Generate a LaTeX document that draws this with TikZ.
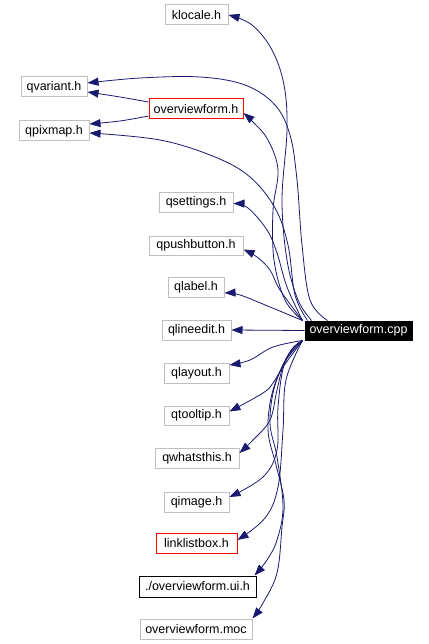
\documentclass[tikz,border=0pt]{standalone}
\usepackage{fontspec}
\setmainfont{Liberation Sans}
\usetikzlibrary{arrows.meta}
\definecolor{edgeblue}{RGB}{25,25,112}
\definecolor{boxgray}{RGB}{191,191,191}
\tikzset{
  hbox/.style={draw=boxgray, line width=1pt, inner sep=0pt, font=\fontsize{12.5}{14}\selectfont},
  redbox/.style={hbox, draw=red},
  blackbox/.style={hbox, draw=black},
  cppbox/.style={hbox, draw=black, fill=black, text=white},
  edge/.style={draw=edgeblue, line width=0.8pt, -{Triangle[length=11pt,width=8pt]}},
}
\begin{document}
\begin{tikzpicture}[x=1pt,y=-1pt]
\useasboundingbox (0,0) rectangle (428,644);
\fill[white] (0,0) rectangle (428,644);
% nodes
\node[hbox, minimum width=63pt, minimum height=20pt] (klocale) at (196.5,15) {klocale.h};
\node[hbox, minimum width=66pt, minimum height=20pt] (qvariant) at (54,87) {qvariant.h};
\node[redbox, minimum width=94pt, minimum height=20pt] (ovh) at (196,109) {overviewform.h};
\node[hbox, minimum width=70pt, minimum height=20pt] (qpixmap) at (54,131) {qpixmap.h};
\node[hbox, minimum width=74pt, minimum height=19pt] (qsettings) at (196,202.5) {qsettings.h};
\node[hbox, minimum width=94pt, minimum height=19pt] (qpush) at (196,245.5) {qpushbutton.h};
\node[hbox, minimum width=56pt, minimum height=20pt] (qlabel) at (196,287) {qlabel.h};
\node[hbox, minimum width=69pt, minimum height=20pt] (qlineedit) at (196.5,330) {qlineedit.h};
\node[cppbox, minimum width=107pt, minimum height=19pt] (cpp) at (358.5,330.5) {overviewform.cpp};
\node[hbox, minimum width=65pt, minimum height=20pt] (qlayout) at (196.5,373) {qlayout.h};
\node[hbox, minimum width=65pt, minimum height=19pt] (qtooltip) at (196.5,415.5) {qtooltip.h};
\node[hbox, minimum width=84pt, minimum height=20pt] (qwhats) at (197,458) {qwhatsthis.h};
\node[hbox, minimum width=65pt, minimum height=20pt] (qimage) at (196.5,502) {qimage.h};
\node[redbox, minimum width=81pt, minimum height=20pt] (linklist) at (196.5,543) {linklistbox.h};
\node[blackbox, minimum width=117pt, minimum height=21pt] (uih) at (197.5,586.5) {./overviewform.ui.h};
\node[hbox, minimum width=112pt, minimum height=20pt] (moc) at (196,629) {overviewform.moc};
% tip coordinates
\coordinate (tklocale) at (klocale.east);
\coordinate (tqvariant1) at ([yshift=4pt]qvariant.east);
\coordinate (tqvariant2) at ([yshift=-5pt]qvariant.east);
\coordinate (tovh) at ([yshift=-4pt]ovh.east);
\coordinate (tqpixmap1) at ([yshift=7pt]qpixmap.east);
\coordinate (tqpixmap2) at ([yshift=-2pt]qpixmap.east);
\coordinate (tqsettings) at ([yshift=-1pt]qsettings.east);
\coordinate (tqpush) at ([yshift=-4pt]qpush.east);
\coordinate (tqlabel) at ([yshift=-6pt]qlabel.east);
\coordinate (tqlayout) at ([yshift=8pt]qlayout.east);
\coordinate (tqtooltip) at ([yshift=4pt]qtooltip.east);
\coordinate (tqwhats) at ([yshift=5pt]qwhats.east);
\coordinate (tqimage) at ([yshift=5pt]qimage.east);
\coordinate (tlinklist) at ([yshift=3pt]linklist.east);
\coordinate (tuih) at ([xshift=-2pt]uih.north east);
\coordinate (tmoc) at (moc.north east);
\coordinate (ovhw1) at ([yshift=7pt]ovh.west);
\coordinate (ovhw2) at ([yshift=-7pt]ovh.west);
\coordinate (cu1) at ([xshift=7pt]cpp.north west);
\coordinate (cu2) at ([xshift=23pt]cpp.north west);
\coordinate (cu3) at ([xshift=-2pt]cpp.north west);
\coordinate (cu4) at ([xshift=3pt]cpp.north west);
\coordinate (cl) at ([xshift=-2pt]cpp.south west);
% edges from cpp
\draw[edge] plot[smooth, tension=0.6] coordinates {(cu1) (298,300) (287,260) (282,200) (287,130) (284,85) (272,50) (252,25) (tklocale)};
\draw[edge] plot[smooth, tension=0.6] coordinates {(cu2) (310,300) (302,245) (297,180) (290,135) (275,105) (245,85) (200,77) (140,78) (tqvariant1)};
\draw[edge] plot[smooth, tension=0.6] coordinates {(cu3) (285,300) (274,260) (273,210) (278,170) (268,140) (253,122) (tovh)};
\draw[edge] plot[smooth, tension=0.6] coordinates {(cu4) (295,295) (288,245) (275,208) (250,177) (215,157) (160,140) (tqpixmap2)};
\draw[edge] plot[smooth, tension=0.6] coordinates {(cu3) (287,287) (277,253) (267,230) (248,208) (tqsettings)};
\draw[edge] plot[smooth, tension=0.6] coordinates {(cu3) (280,290) (270,270) (257,257) (tqpush)};
\draw[edge] plot[smooth, tension=0.6] coordinates {(cu3) (270,307) (240,295) (tqlabel)};
\draw[edge] (cpp.west) -- (qlineedit.east);
\draw[edge] plot[smooth, tension=0.6] coordinates {(cl) (273,347) (250,360) (tqlayout)};
\draw[edge] plot[smooth, tension=0.6] coordinates {(cl) (283,367) (273,383) (263,393) (tqtooltip)};
\draw[edge] plot[smooth, tension=0.6] coordinates {(cl) (285,362) (277,390) (270,420) (253,440) (tqwhats)};
\draw[edge] plot[smooth, tension=0.6] coordinates {(cl) (285,362) (278,407) (277,450) (263,477) (tqimage)};
\draw[edge] plot[smooth, tension=0.6] coordinates {(cl) (286,380) (283,430) (278,487) (265,518) (tlinklist)};
\draw[edge] plot[smooth, tension=0.6] coordinates {(cl) (290,352) (275,385) (270,423) (277,457) (283,507) (277,540) (267,560) (tuih)};
\draw[edge] plot[smooth, tension=0.6] coordinates {(cl) (290,352) (273,390) (268,430) (276,465) (284,500) (282,527) (277,573) (263,603) (tmoc)};
% edges from overviewform.h
\draw[edge] plot[smooth, tension=0.6] coordinates {(ovhw1) (120,97) (tqvariant2)};
\draw[edge] plot[smooth, tension=0.6] coordinates {(ovhw2) (120,121) (tqpixmap1)};
\end{tikzpicture}
\end{document}
